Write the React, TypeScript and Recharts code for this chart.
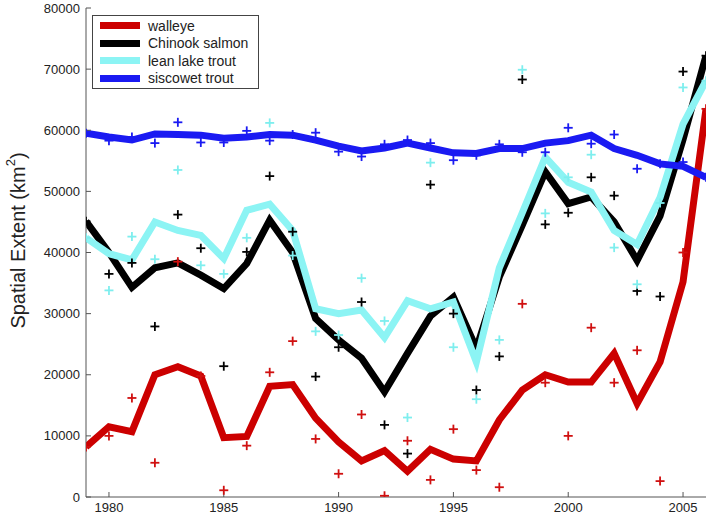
import React from "react"
import { ComposedChart, Line, Scatter, XAxis, YAxis, Legend } from "recharts"

const years = [
  1979, 1980, 1981, 1982, 1983, 1984, 1985, 1986, 1987, 1988, 1989, 1990, 1991, 1992,
  1993, 1994, 1995, 1996, 1997, 1998, 1999, 2000, 2001, 2002, 2003, 2004, 2005, 2006,
]

// smoothed lines
const walleyeTrend = [
  8200, 11500, 10700, 20000, 21300, 19800, 9700, 9900, 18100, 18400, 12900, 9000, 5900, 7600,
  4200, 7800, 6200, 5900, 12600, 17500, 20000, 18800, 18800, 23500, 15300, 22100, 35200, 63500,
]
const chinookTrend = [
  45100, 40000, 34300, 37500, 38300, 36300, 34100, 38200, 45300, 40000, 29200, 25700, 22700, 17200,
  23500, 29600, 32700, 24300, 36000, 44500, 53200, 48000, 49100, 45000, 38700, 46000, 58500, 72200,
]
const leanTrend = [
  42400, 39800, 38800, 45000, 43600, 42800, 39000, 46900, 47900, 43600, 30800, 30000, 30600, 26100,
  32100, 30800, 31900, 22100, 37500, 46500, 55600, 51500, 49900, 43600, 41300, 49000, 61000, 68100,
]
const siscowetTrend = [
  59500, 58900, 58400, 59400, 59300, 59200, 58700, 58900, 59300, 59200, 58400, 57400, 56600, 57100,
  57900, 57100, 56300, 56200, 57000, 57000, 57900, 58300, 59200, 57000, 55900, 54500, 54100, 52300,
]

// yearly estimates (+ markers)
const walleyeObs = [
  8200, 10000, 16200, 5600, 38500, 19800, 1100, 8400, 20400, 25500, 9500, 3800, 13500, 200,
  9200, 2800, 11100, 4400, 1600, 31600, 18700, 10000, 27700, 18700, 24000, 2600, 40000, 63500,
]
const chinookObs = [
  45100, 36500, 38300, 27900, 46200, 40700, 21400, 40100, 52500, 43400, 19700, 24500, 31900, 11800,
  7100, 51100, 30000, 17500, 23000, 68300, 44600, 46500, 52300, 49300, 33700, 32800, 69600, 72200,
]
const leanObs = [
  42400, 33800, 42600, 38900, 53500, 37900, 36500, 42400, 61200, 39500, 27100, 26500, 35800, 28800,
  13000, 54700, 24500, 16000, 25700, 69900, 46400, 52300, 56000, 40800, 34800, 48100, 67000, 68100,
]
const siscowetObs = [
  59500, 58300, 58900, 57900, 61300, 58000, 58000, 59900, 58300, 59300, 59600, 56500, 55700, 57700,
  58400, 57900, 55100, 55900, 57700, 56400, 56400, 60400, 57800, 59300, 53700, 54500, 54800, 52300,
]

const yearTicks = [1980, 1985, 1990, 1995, 2000, 2005]
const extentTicks = [0, 10000, 20000, 30000, 40000, 50000, 60000, 70000, 80000]

const seriesKeys = ["walleye", "chinook", "lean", "siscowet"]
const seriesNames = ["walleye", "Chinook salmon", "lean lake trout", "siscowet trout"]
const lineColors = ["#cc0000", "#000000", "#8cf4f4", "#1a1af2"]
const markColors = ["#d01010", "#000000", "#7eeeee", "#1a1af2"]

const FONT = "'Liberation Sans', Arial, Helvetica, sans-serif"
const AXIS = "#555555"

const trends = [walleyeTrend, chinookTrend, leanTrend, siscowetTrend]
const observed = [walleyeObs, chinookObs, leanObs, siscowetObs]

const data = years.map((year, i) => {
  const row: Record<string, number> = { year }
  seriesKeys.forEach((k, s) => {
    row[k] = trends[s][i]
    row[k + "Obs"] = observed[s][i]
  })
  return row
})

const Plus = (props: any) => {
  const { cx, cy, fill } = props
  if (cx == null || cy == null) return null
  return (
    <g stroke={fill} strokeWidth={1.8}>
      <line x1={cx - 4.5} x2={cx + 4.5} y1={cy} y2={cy} />
      <line x1={cx} x2={cx} y1={cy - 4.5} y2={cy + 4.5} />
    </g>
  )
}

const YLabel = (props: any) => {
  const vb = props.viewBox || { x: 0, y: 0, width: 86, height: 489 }
  const cx = vb.x + 18
  const cy = vb.y + vb.height / 2 - 12
  return (
    <text
      x={cx}
      y={cy}
      transform={`rotate(-90, ${cx}, ${cy})`}
      textAnchor="middle"
      dominantBaseline="central"
      fontFamily={FONT}
      fontSize={20}
      fill="#222"
    >
      Spatial Extent (km
      <tspan dy={-8} fontSize={13}>2</tspan>
      <tspan dy={8}>)</tspan>
    </text>
  )
}

const LegendBox = () => (
  <div
    style={{
      border: "1px solid #444",
      background: "#fff",
      padding: "1px 10px 1px 7px",
      fontFamily: FONT,
      fontSize: 14,
      color: "#222",
    }}
  >
    {seriesNames.map((name, i) => (
      <div key={name} style={{ display: "flex", alignItems: "center", height: 17.5 }}>
        <span style={{ display: "inline-block", width: 40, height: 7, background: lineColors[i], marginRight: 8 }} />
        <span>{name}</span>
      </div>
    ))}
  </div>
)

export default function App() {
  return (
    <div style={{ position: "absolute", left: 0, top: 0, background: "#fff" }}>
      <ComposedChart width={714} height={518} data={data} margin={{ top: 8, right: 8, bottom: 0, left: 0 }}>
        <XAxis
          dataKey="year"
          type="number"
          domain={[1979, 2006]}
          ticks={yearTicks}
          allowDataOverflow
          height={21}
          tickSize={-5}
          tickMargin={11}
          stroke={AXIS}
          tick={{ fill: "#222", fontSize: 13, fontFamily: FONT }}
        />
        <XAxis
          xAxisId="top"
          orientation="top"
          type="number"
          domain={[1979, 2006]}
          ticks={yearTicks}
          allowDataOverflow
          height={0}
          tickSize={-5}
          tick={false}
          stroke={AXIS}
        />
        <YAxis
          type="number"
          domain={[0, 80000]}
          ticks={extentTicks}
          allowDataOverflow
          width={86}
          tickSize={-5}
          tickMargin={11}
          stroke={AXIS}
          tick={{ fill: "#222", fontSize: 13, fontFamily: FONT }}
          label={<YLabel />}
        />
        <YAxis
          yAxisId="right"
          orientation="right"
          type="number"
          domain={[0, 80000]}
          ticks={extentTicks}
          allowDataOverflow
          width={0}
          tickSize={-5}
          tick={false}
          stroke={AXIS}
        />
        {seriesKeys.map((k, i) => (
          <Line
            key={k}
            dataKey={k}
            name={seriesNames[i]}
            stroke={lineColors[i]}
            strokeWidth={7}
            dot={false}
            activeDot={false}
            isAnimationActive={false}
          />
        ))}
        {seriesKeys.map((k, i) => (
          <Scatter
            key={k + "Obs"}
            dataKey={k + "Obs"}
            fill={markColors[i]}
            shape={<Plus />}
            isAnimationActive={false}
          />
        ))}
        <Legend
          layout="vertical"
          align="center"
          verticalAlign="middle"
          wrapperStyle={{ left: 92, top: 15, width: "auto", height: "auto" }}
          content={<LegendBox />}
        />
      </ComposedChart>
    </div>
  )
}
